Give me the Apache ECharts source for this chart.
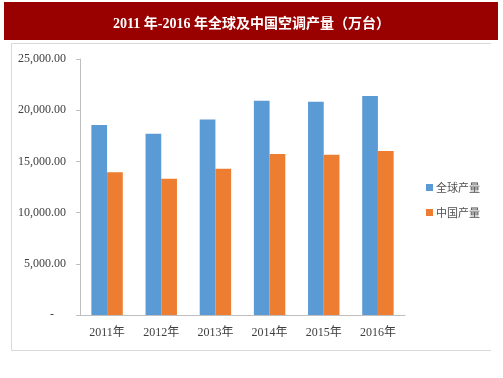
<!DOCTYPE html>
<html>
<head>
<meta charset="utf-8">
<script src="https://cdn.jsdelivr.net/npm/echarts@6/dist/echarts.min.js"></script>
<style>
  html, body { margin: 0; padding: 0; background: #fff; }
  #chart { width: 503px; height: 378px; }
</style>
</head>
<body>
<div id="chart"></div>
<script>
const years = ["2011年", "2012年", "2013年", "2014年", "2015年", "2016年"];
const globalOutput = [18550, 17700, 19080, 20930, 20830, 21390];
const chinaOutput = [13930, 13310, 14290, 15720, 15660, 16020];
const seriesNames = ["全球产量", "中国产量"];
const titleText = "2011 年-2016 年全球及中国空调产量（万台）";

const serif = "'Liberation Serif', 'Noto Sans CJK SC', serif";
const labelColor = "#404040";

const fmt = (v) => {
  if (v === 0) return "-    ";
  return v.toLocaleString("en-US", { minimumFractionDigits: 2, maximumFractionDigits: 2 });
};

const chart = echarts.init(document.getElementById("chart"));
chart.setOption({
  animation: false,
  backgroundColor: "#fff",
  graphic: [
    { type: "rect", shape: { x: 4, y: 2, width: 494, height: 38 }, style: { fill: "#990000" }, silent: true },
    {
      type: "polyline",
      shape: { points: [[491, 43.5], [11.5, 43.5], [11.5, 350.5], [491, 350.5]] },
      style: { fill: null, stroke: "#d9d9d9", lineWidth: 1 },
      silent: true
    }
  ],
  title: {
    text: titleText,
    left: "center",
    top: 12,
    textStyle: { color: "#fff", fontFamily: serif, fontSize: 14, fontWeight: "bold" }
  },
  legend: {
    orient: "vertical",
    left: 421,
    top: 177,
    itemWidth: 7,
    itemHeight: 7,
    itemGap: 14,
    icon: "rect",
    data: seriesNames,
    textStyle: { color: "#505050", fontSize: 11, fontFamily: "'Noto Sans CJK SC', sans-serif", padding: [0, 0, 0, -2] }
  },
  grid: { left: 80, right: 98, top: 59, bottom: 63, containLabel: false },
  xAxis: {
    type: "category",
    data: years,
    axisLine: { lineStyle: { color: "#bfbfbf" } },
    axisTick: { show: false },
    axisLabel: { color: labelColor, fontFamily: serif, fontSize: 12, margin: 12 }
  },
  yAxis: {
    type: "value",
    min: 0,
    max: 25000,
    interval: 5000,
    splitLine: { show: false },
    axisLine: { show: true, lineStyle: { color: "#bfbfbf" } },
    axisTick: { show: true, length: 4, lineStyle: { color: "#bfbfbf" } },
    axisLabel: { color: labelColor, fontFamily: serif, fontSize: 12, margin: 14, formatter: fmt }
  },
  series: [
    {
      name: seriesNames[0],
      type: "bar",
      data: globalOutput,
      barGap: "0%",
      barCategoryGap: "42%",
      itemStyle: { color: "#5b9bd5" }
    },
    {
      name: seriesNames[1],
      type: "bar",
      data: chinaOutput,
      itemStyle: { color: "#ed7d31" }
    }
  ]
});
</script>
</body>
</html>
